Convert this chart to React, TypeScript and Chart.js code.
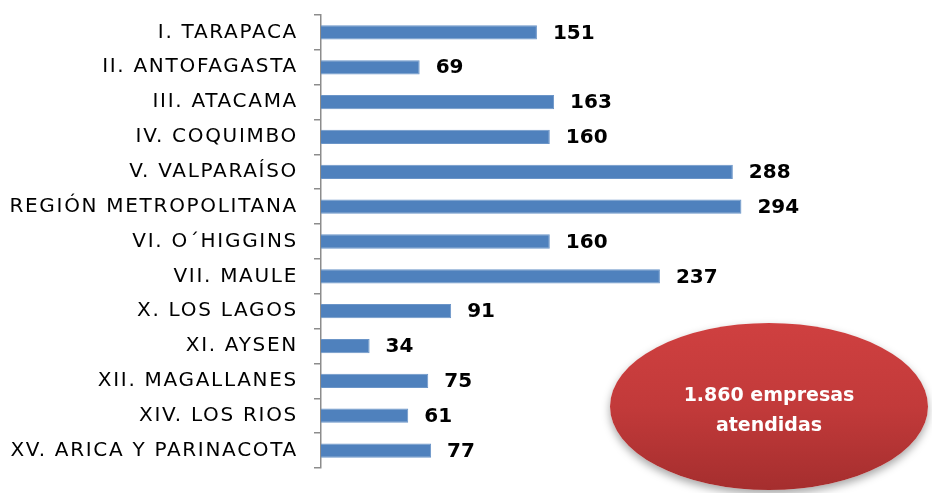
import React, { useEffect, useRef } from "react";
import { Chart, registerables } from "chart.js";

Chart.register(...registerables);

const categories = [
  "I. TARAPACA",
  "II. ANTOFAGASTA",
  "III. ATACAMA",
  "IV. COQUIMBO",
  "V. VALPARAÍSO",
  "REGIÓN METROPOLITANA",
  "VI. O´HIGGINS",
  "VII. MAULE",
  "X. LOS LAGOS",
  "XI. AYSEN",
  "XII. MAGALLANES",
  "XIV. LOS RIOS",
  "XV. ARICA Y PARINACOTA",
];
const values = [151, 69, 163, 160, 288, 294, 160, 237, 91, 34, 75, 61, 77];
const totalLines = ["1.860 empresas", "atendidas"];

const spacing = {
  id: "spacing",
  beforeDraw(chart: any) {
    chart.ctx.letterSpacing = "1.7px";
  },
};

const valueLabels = {
  id: "valueLabels",
  afterDatasetsDraw(chart: any) {
    const ctx = chart.ctx;
    const meta = chart.getDatasetMeta(0);
    ctx.save();
    ctx.letterSpacing = "0px";
    ctx.font = "bold 20px 'DejaVu Sans'";
    ctx.fillStyle = "#000";
    ctx.textAlign = "left";
    ctx.textBaseline = "middle";
    meta.data.forEach((bar: any, i: number) => {
      ctx.fillText(String(values[i]), bar.x + 16, bar.y + 1);
    });
    ctx.restore();
  },
};

export default function App() {
  const ref = useRef<HTMLCanvasElement>(null);
  useEffect(() => {
    const chart = new Chart(ref.current!, {
      type: "bar",
      data: {
        labels: categories,
        datasets: [
          {
            data: values,
            backgroundColor: "#4f81bd",
            borderColor: "#6b95c8",
            borderWidth: 1,
            barPercentage: 0.82,
            categoryPercentage: 0.5,
          },
        ],
      },
      options: {
        indexAxis: "y",
        animation: false,
        responsive: false,
        layout: { padding: { top: 15, bottom: 25, right: 39, left: 0 } },
        plugins: { legend: { display: false }, tooltip: { enabled: false } },
        scales: {
          x: { display: false, min: 0, max: 400 },
          y: {
            afterFit: (s: any) => {
              s.width = 321;
              s.paddingTop = 0;
              s.paddingBottom = 0;
            },
            border: { display: true, color: "#8c8c8c", width: 1.5 },
            grid: {
              drawOnChartArea: false,
              drawTicks: true,
              tickLength: 7,
              color: "#8c8c8c",
              lineWidth: 1.5,
              offset: true,
            },
            ticks: {
              color: "#000",
              padding: 16,
              font: { family: "'DejaVu Sans'", size: 20 },
            },
          },
        },
      },
      plugins: [spacing, valueLabels],
    });
    return () => chart.destroy();
  }, []);
  return (
    <div style={{ position: "fixed", left: 0, top: 0, width: 932, height: 493, background: "#fff" }}>
      <canvas ref={ref} width={932} height={493} style={{ display: "block" }} />
      <div
        style={{
          position: "absolute",
          left: 610,
          top: 323,
          width: 318,
          height: 167,
          borderRadius: "50%",
          background: "linear-gradient(to bottom, #cf4040 0%, #c23a3a 50%, #a52e2e 100%)",
          boxShadow: "0 4px 8px rgba(0,0,0,0.35)",
          display: "flex",
          flexDirection: "column",
          alignItems: "center",
          justifyContent: "center",
          color: "#fff",
          fontFamily: "'DejaVu Sans'",
          fontWeight: "bold",
          fontSize: 19,
          lineHeight: "30px",
          paddingTop: 4,
          boxSizing: "border-box",
        }}
      >
        {totalLines.map((t) => (
          <div key={t}>{t}</div>
        ))}
      </div>
    </div>
  );
}
